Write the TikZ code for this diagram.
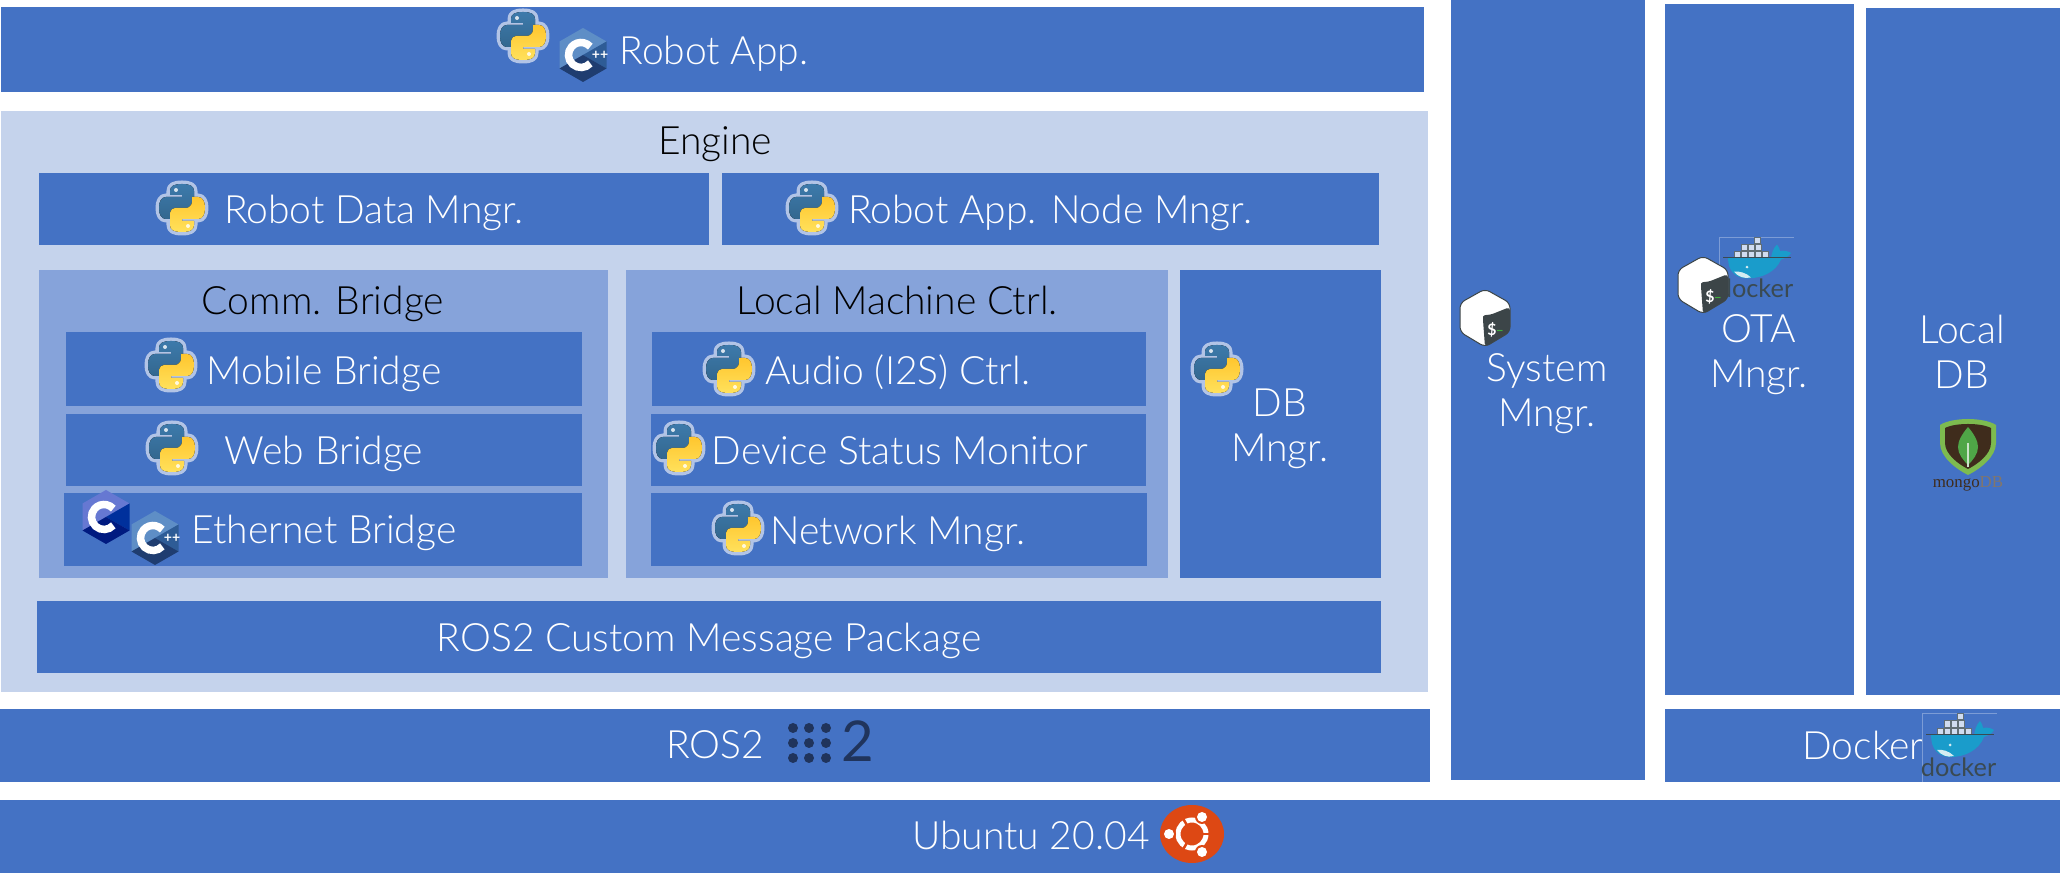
\documentclass[tikz,border=0pt]{standalone}
\usepackage{fontspec}
\setmainfont{Lato Light}
\newfontfamily\logofont{Lato}
\newfontfamily\mongofont{Liberation Serif}
\usetikzlibrary{calc}
\definecolor{barblue}{HTML}{4472C4}
\definecolor{enginebg}{HTML}{C5D3EC}
\definecolor{groupbg}{HTML}{86A3DA}
\definecolor{rosnavy}{HTML}{20345C}
\definecolor{ubuorange}{HTML}{DD4814}
\newcommand{\sizept}[1]{\fontsize{#1}{#1}\selectfont}

% python logo, centre at #2,#3
\newcommand{\snakepath}{(0,-24) .. controls (8,-24) and (12,-22) .. (12,-17) -- (12,-5) .. controls (12,-2) and (9,0) .. (7,0) -- (-4,0) .. controls (-7,0) and (-10,3) .. (-10,6) -- (-10,11) -- (-16,11) .. controls (-21,11) and (-23,6) .. (-23,0) .. controls (-23,-6) and (-21,-11) .. (-16,-11) -- (0,-11) -- (0,-13) -- (-12,-13) -- (-12,-17) .. controls (-12,-22) and (-8,-24) .. (0,-24) -- cycle}
\newcommand{\pylogo}[2]{
\begin{scope}[shift={(#1,#2)}]
\draw[pyhalo] \snakepath;
\draw[pyhalo,rotate=180] \snakepath;
\fill[top color=pyblueA,bottom color=pyblueB] \snakepath;
\fill[rotate=180,top color=pyyellowB,bottom color=pyyellowA] \snakepath;
\fill[white!80!pyblueA] (-6,-18) circle (2);
\fill[white!80!pyyellowA] (6,18) circle (2);
\end{scope}}
% hexagon logo for C and C++
\newcommand{\hexlogo}[5]{
\begin{scope}[shift={(#1,#2)}]
\fill[#3] (0,-27) -- (23.5,-13.5) -- (0,0) -- (-23.5,13.5) -- (-23.5,-13.5) -- cycle;
\fill[#4] (23.5,-13.5) -- (23.5,13.5) -- (0,0) -- cycle;
\fill[#5] (0,0) -- (23.5,13.5) -- (0,27) -- (-23.5,13.5) -- cycle;
\draw[white,line width=0.075cm] ([shift={(42:12.5)}]-2,0) arc (42:318:12.5);
\end{scope}}
\newcommand{\cpplogo}[3]{
\hexlogo{#2}{#3}{cpplight}{cppmid}{cppdark}
\node[logotext,text=white,font=\logofont\bfseries\sizept{4}] (#1) at ({#2+17},{#3}) {++};}
\newcommand{\clogo}[2]{\hexlogo{#1}{#2}{clight}{cmid}{cdark}}
% bash logo
\newcommand{\bashlogo}[3]{
\begin{scope}[shift={(#2,#3)}]
\draw[draw=bashdark,fill=white,line width=0.01cm,rounded corners=1.5pt] (0,-29) -- (25,-15) -- (25,14) -- (0,29) -- (-25,14) -- (-25,-15) -- cycle;
\fill[bashdark,rounded corners=1pt] (25,-11) -- (25,14) -- (0,29) -- (-2,2) .. controls (-2,-3) and (2,-3) .. (5,-3) -- cycle;
\node[logotext,text=white,font=\logofont\bfseries\sizept{4.5}] (#1d) at (7,12) {\$};
\node[logotext,text=bashgreen,font=\logofont\bfseries\sizept{4}] (#1u) at (15,13) {\_};
\end{scope}}
% docker logo, top left at #2,#3
\newcommand{\dockerlogo}[4]{
\begin{scope}[shift={(#2,#3)},yscale=#4]
\draw[faintline] (75,0) -- (0,0) -- (0,69);
\foreach \bx/\by in {35/0,22/7.5,29/7.5,36/7.5,15/15,22/15,29/15,36/15,43/15}
  \draw[crate] (\bx,\by) rectangle +(6.5,6.5);
\fill[whalecol] (9,22) -- (52,22) .. controls (53,17) and (54,12) .. (58,8) .. controls (60,11) and (61,13) .. (61,15) .. controls (65,14) and (69,15) .. (72,17) .. controls (70,21) and (65,23) .. (62,24) .. controls (57,37) and (43,44) .. (29,44) .. controls (16,44) and (9,36) .. (9,22) -- cycle;
\fill[whalebelly] (15,37) .. controls (20,36) and (27,38) .. (32,43) .. controls (25,45) and (19,42) .. (15,37) -- cycle;
\fill[whalebelly] (28,32) circle (1.5);
\draw[deckline] (4,22) -- (72,22);
\node[anchor=base,inner sep=0pt,text=dockergrey,font=\logofont\sizept{7.2}] (#1) at (36.5,64) {docker};
\end{scope}}
% mongodb logo, top middle of the shield at #2,#3
\newcommand{\mongologo}[3]{
\begin{scope}[shift={(#2,#3)}]
\fill[mongogreen] (0,0) .. controls (10,0) and (22,2) .. (28,6) -- (28,24) .. controls (28,38) and (12,50) .. (0,56) .. controls (-12,50) and (-28,38) .. (-28,24) -- (-28,6) .. controls (-22,2) and (-10,0) .. (0,0) -- cycle;
\fill[mongobrown] (0,5) .. controls (8,5) and (17,6) .. (23,9) -- (23,24) .. controls (23,35) and (10,45) .. (0,50) .. controls (-10,45) and (-23,35) .. (-23,24) -- (-23,9) .. controls (-17,6) and (-8,5) .. (0,5) -- cycle;
\fill[mongoleaf] (0,8) .. controls (6,15) and (10,22) .. (10,28) .. controls (10,35) and (5,41) .. (0,46) .. controls (-5,41) and (-10,35) .. (-10,28) .. controls (-10,22) and (-6,15) .. (0,8) -- cycle;
\draw[mongostem] (0,24) -- (0,48);
\node[anchor=base,inner sep=0pt,font=\mongofont\sizept{4.8}] (#1) at (0,69) {\textcolor{mongobrown}{mongo}\textcolor{mongobrown!65!white}{DB}};
\end{scope}}

\definecolor{pyblueA}{HTML}{3D7AAB}
\definecolor{pyblueB}{HTML}{33678F}
\definecolor{pyyellowA}{HTML}{FFE15C}
\definecolor{pyyellowB}{HTML}{FFC62E}
\definecolor{cpplight}{HTML}{5E8EC6}
\definecolor{cppmid}{HTML}{2E5C96}
\definecolor{cppdark}{HTML}{1F3D70}
\definecolor{clight}{HTML}{6678D2}
\definecolor{cmid}{HTML}{00309C}
\definecolor{cdark}{HTML}{001A80}
\definecolor{bashdark}{HTML}{3C4548}
\definecolor{bashgreen}{HTML}{3FAE3B}
\definecolor{whalecol}{HTML}{1A9CCB}
\definecolor{whalebelly}{HTML}{D5ECF2}
\definecolor{dockergrey}{HTML}{3A4A52}
\definecolor{mongogreen}{HTML}{7DBB4F}
\definecolor{mongobrown}{HTML}{3F2C1C}
\definecolor{mongoleaf}{HTML}{4FA647}

\begin{document}
\begin{tikzpicture}[x=0.01cm,y=-0.01cm,
	lbl/.style={anchor=base,inner sep=0pt,text=white,font=\sizept{11.1}},
	darklbl/.style={lbl,text=black},
	stacklbl/.style={anchor=center,inner sep=0pt,text=white,align=center,font=\fontsize{11.1}{12.8}\selectfont},
	logotext/.style={anchor=center,inner sep=0pt},
	pyhalo/.style={draw=enginebg!85!barblue,line width=0.07cm,line join=round},
	crate/.style={draw=dockergrey!80!white,fill=barblue!25!white,line width=0.006cm},
	deckline/.style={draw=dockergrey,line width=0.01cm},
	faintline/.style={draw=barblue!70!white,line width=0.006cm},
	mongostem/.style={draw=white!70!mongoleaf,line width=0.012cm}]
\useasboundingbox (0,0) rectangle (2060,883);
% outer bars
\fill[barblue] (1,7) rectangle (1424,92);
\fill[enginebg] (1,111) rectangle (1428,692);
\fill[barblue] (0,709) rectangle (1430,782);
\fill[barblue] (0,800) rectangle (2060,873);
\fill[barblue] (1451,0) rectangle (1645,780);
\fill[barblue] (1665,4) rectangle (1854,695);
\fill[barblue] (1866,8) rectangle (2060,695);
\fill[barblue] (1665,709) rectangle (2060,782);
% engine contents
\fill[barblue] (39,173) rectangle (709,245);
\fill[barblue] (722,173) rectangle (1379,245);
\fill[groupbg] (39,270) rectangle (608,578);
\fill[groupbg] (626,270) rectangle (1168,578);
\fill[barblue] (1180,270) rectangle (1381,578);
\fill[barblue] (66,332) rectangle (582,406);
\fill[barblue] (66,414) rectangle (582,486);
\fill[barblue] (64,493) rectangle (582,566);
\fill[barblue] (652,332) rectangle (1146,406);
\fill[barblue] (651,414) rectangle (1146,486);
\fill[barblue] (651,493) rectangle (1147,566);
\fill[barblue] (37,601) rectangle (1381,673);
% labels
\node[lbl] (app) at (714,65) {Robot App.};
\node[darklbl] (engine) at (715,155) {Engine};
\node[lbl] (data) at (374,224) {Robot Data Mngr.};
\node[lbl] (nodemngr) at (1050,224) {Robot App. Node Mngr.};
\node[darklbl] (comm) at (323,315) {Comm. Bridge};
\node[darklbl] (local) at (897,315) {Local Machine Ctrl.};
\node[lbl] (mobile) at (324,385) {Mobile Bridge};
\node[lbl] (web) at (324,465) {Web Bridge};
\node[lbl] (ether) at (324,544) {Ethernet Bridge};
\node[lbl] (audio) at (898,385) {Audio (I2S) Ctrl.};
\node[lbl] (device) at (900,465) {Device Status Monitor};
\node[lbl] (network) at (898,545) {Network Mngr.};
\node[stacklbl] (dbm) at (1280,429) {DB\\Mngr.};
\node[lbl] (custom) at (709,652) {ROS2 Custom Message Package};
\node[lbl] (ros) at (715,759) {ROS2};
\node[lbl] (ubuntu) at (1031,850) {Ubuntu 20.04};
\node[stacklbl] (sysm) at (1547,394) {System\\Mngr.};
\node[stacklbl] (ota) at (1759,355) {OTA\\Mngr.};
\node[stacklbl] (ldb) at (1962,352) {Local\\DB};
\node[lbl] (dock) at (1863,760) {Docker};
% logos
\pylogo{523}{36}
\cpplogo{cppapp}{583}{55}
\pylogo{182}{208}
\pylogo{812}{208}
\pylogo{171}{365}
\pylogo{172}{448}
\clogo{106}{517}
\cpplogo{cppeth}{155}{538}
\pylogo{729}{369}
\pylogo{679}{448}
\pylogo{738}{528}
\pylogo{1217}{369}
\bashlogo{bashsys}{1485}{318}
\dockerlogo{dockota}{1719}{237}{0.94}
\bashlogo{bashota}{1703}{285}
\dockerlogo{dockbar}{1922}{713}{1}
\mongologo{mongo}{1968}{419}
% ros2 dots
\foreach \dx in {793,809,826}
  \foreach \dy in {728,743,758}
    \fill[rosnavy] (\dx,\dy) circle (5);
\node[anchor=base,inner sep=0pt,text=rosnavy,font=\logofont\sizept{16}] (rostwo) at (858,762) {2};
% ubuntu logo
\begin{scope}[shift={(1192,834)}]
\fill[ubuorange] (0,0) ellipse (32 and 29);
\draw[white,line width=0.05cm] (0,0) circle (14);
\foreach \ang in {0,120,240}
  \draw[ubuorange,line width=0.025cm] (\ang:9) -- (\ang:20);
\fill[ubuorange] (10,-17) circle (7);
\fill[ubuorange] (-23,0) circle (7);
\fill[ubuorange] (10,18) circle (7);
\fill[white] (10,-17) circle (5);
\fill[white] (-23,0) circle (5);
\fill[white] (10,18) circle (5);
\end{scope}
\end{tikzpicture}
\end{document}
